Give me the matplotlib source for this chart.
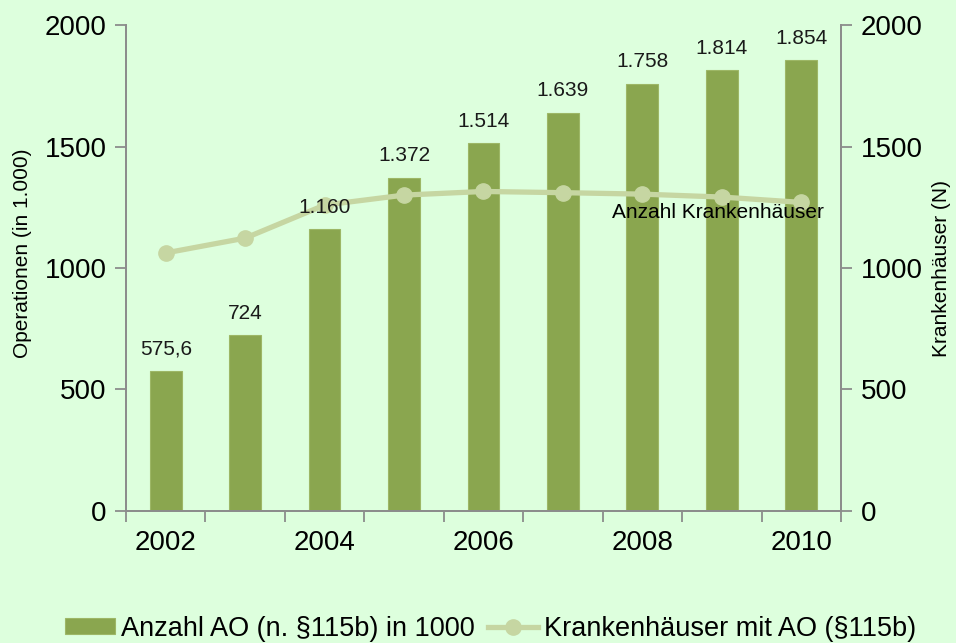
import matplotlib.pyplot as plt
from matplotlib.ticker import FixedLocator, NullFormatter

# === Data ===
years = [2002, 2003, 2004, 2005, 2006, 2007, 2008, 2009, 2010]
operations = [575.6, 724, 1160, 1372, 1514, 1639, 1758, 1814, 1854]
op_labels = ['575,6', '724', '1.160', '1.372', '1.514', '1.639', '1.758', '1.814', '1.854']
hospitals = [1062, 1123, 1259, 1300, 1315, 1310, 1304, 1292, 1270]
year_ticks = [2002, 2004, 2006, 2008, 2010]

BG = '#ddffdd'
BAR = '#8aa64f'
LINE = '#c6d6a2'
SPINE = '#8c8c8c'

plt.rcParams['font.family'] = ['Liberation Sans', 'DejaVu Sans']

fig = plt.figure(figsize=(9.56, 6.43), dpi=100, facecolor=BG)
ax = fig.add_axes([0.1318, 0.2053, 0.7479, 0.7558])
ax.set_facecolor(BG)
ax2 = ax.twinx()

x = list(range(len(years)))
ax.bar(x, operations, width=0.4, color=BAR, edgecolor='#9db766', linewidth=0.8,
       label='Anzahl AO (n. §115b) in 1000', zorder=2)

ax2.plot(x, hospitals, color=LINE, lw=3.8, marker='o', markersize=11,
         label='Krankenhäuser mit AO (§115b)', zorder=3)

# value labels sit on top of the line
for xi, v, lab in zip(x, operations, op_labels):
    ax2.annotate(lab, (xi, v), xytext=(0, 9), textcoords='offset points',
                 ha='center', va='bottom', fontsize=15, color='#1a1a1a', zorder=5)
ax2.text(6.95, 1230, 'Anzahl Krankenhäuser', ha='center', va='center',
         fontsize=15, color='black', zorder=5)

for a in (ax, ax2):
    a.set_xlim(-0.5, len(years) - 0.5)
    a.set_ylim(0, 2000)
    a.set_yticks([0, 500, 1000, 1500, 2000])
    a.spines['top'].set_visible(False)
    for s in ('left', 'right', 'bottom'):
        a.spines[s].set_color(SPINE)
        a.spines[s].set_linewidth(1.3)
    a.tick_params(axis='y', colors=SPINE, labelcolor='black', labelsize=20,
                  length=8, width=1.3, pad=6)

# labels under every other year, tick marks at category boundaries
ax.set_xticks([years.index(y) for y in year_ticks])
ax.set_xticklabels([str(y) for y in year_ticks])
ax.tick_params(axis='x', which='major', length=0, labelsize=20, pad=14)
ax.xaxis.set_minor_locator(FixedLocator([i - 0.5 for i in range(len(years) + 1)]))
ax.xaxis.set_minor_formatter(NullFormatter())
ax.tick_params(axis='x', which='minor', length=8, width=1.3, colors=SPINE)

ax.set_ylabel('Operationen (in 1.000)', fontsize=15)
ax.yaxis.set_label_coords(-0.131, 0.531)
ax2.set_ylabel('Krankenhäuser (N)', fontsize=15, labelpad=7)

h1, l1 = ax.get_legend_handles_labels()
h2, l2 = ax2.get_legend_handles_labels()
fig.legend(h1 + h2, l1 + l2, loc='center', bbox_to_anchor=(0.513, 0.022), ncol=2,
           frameon=False, fontsize=19.5, handlelength=1.85, handleheight=0.55,
           handletextpad=0.2, columnspacing=0.5, borderpad=0)

fig.savefig('out.png', dpi=100, facecolor=BG)
